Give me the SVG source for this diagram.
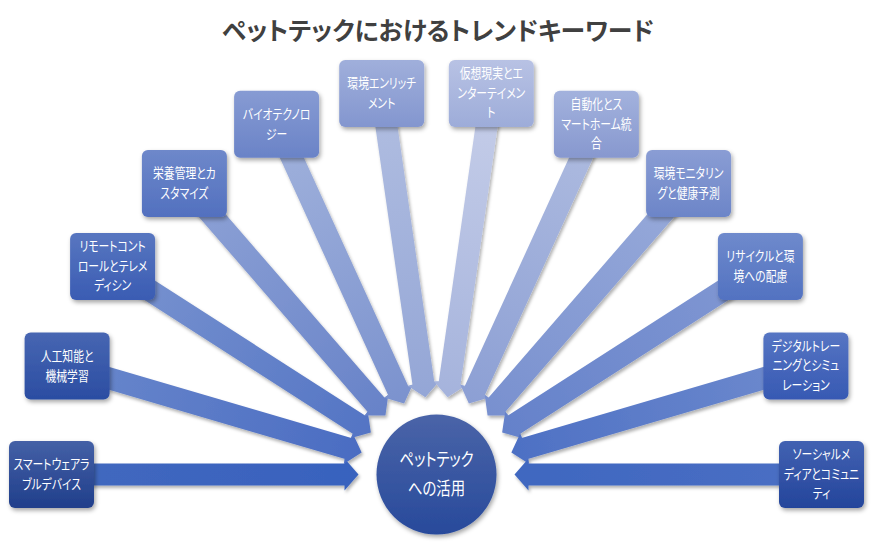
<svg xmlns="http://www.w3.org/2000/svg" width="871" height="545" viewBox="0 0 871 545">
<style>
.t{font-family:"Noto Sans CJK JP","Liberation Sans",sans-serif;fill:#fff;font-size:13.5px;text-anchor:middle;font-feature-settings:"palt"}
.c{font-size:18px}
.title{font-family:"Noto Sans CJK JP","Liberation Sans",sans-serif;fill:#404040;font-size:25px;font-weight:bold;text-anchor:middle;font-feature-settings:"palt"}
.bx{filter:url(#sh)}
.ar{filter:url(#sh2)}
</style>
<defs>
<filter id="sh" x="-20%" y="-20%" width="150%" height="150%"><feDropShadow dx="1.5" dy="2.5" stdDeviation="2" flood-color="#000" flood-opacity="0.35"/></filter>
<filter id="sh2" x="-10%" y="-30%" width="120%" height="160%"><feDropShadow dx="1.5" dy="2.5" stdDeviation="1.8" flood-color="#000" flood-opacity="0.3"/></filter>
<linearGradient id="b0" x1="0" y1="0" x2="0" y2="1"><stop offset="0" stop-color="#4460A6"/><stop offset="1" stop-color="#203F8B"/></linearGradient>
<linearGradient id="b1" x1="0" y1="0" x2="0" y2="1"><stop offset="0" stop-color="#4766B2"/><stop offset="1" stop-color="#2B4DA2"/></linearGradient>
<linearGradient id="b2" x1="0" y1="0" x2="0" y2="1"><stop offset="0" stop-color="#5876C0"/><stop offset="1" stop-color="#3A5CB3"/></linearGradient>
<linearGradient id="b3" x1="0" y1="0" x2="0" y2="1"><stop offset="0" stop-color="#6E88CA"/><stop offset="1" stop-color="#5270BF"/></linearGradient>
<linearGradient id="b4" x1="0" y1="0" x2="0" y2="1"><stop offset="0" stop-color="#879BD3"/><stop offset="1" stop-color="#6A83C7"/></linearGradient>
<linearGradient id="b5" x1="0" y1="0" x2="0" y2="1"><stop offset="0" stop-color="#A0AFDB"/><stop offset="1" stop-color="#8396CF"/></linearGradient>
<linearGradient id="b6" x1="0" y1="0" x2="0" y2="1"><stop offset="0" stop-color="#B8C2E4"/><stop offset="1" stop-color="#9DACD9"/></linearGradient>
<linearGradient id="b7" x1="0" y1="0" x2="0" y2="1"><stop offset="0" stop-color="#A3B2DD"/><stop offset="1" stop-color="#8798CF"/></linearGradient>
<linearGradient id="b8" x1="0" y1="0" x2="0" y2="1"><stop offset="0" stop-color="#8A9DD4"/><stop offset="1" stop-color="#6C85C8"/></linearGradient>
<linearGradient id="b9" x1="0" y1="0" x2="0" y2="1"><stop offset="0" stop-color="#6F8ACC"/><stop offset="1" stop-color="#5272C1"/></linearGradient>
<linearGradient id="b10" x1="0" y1="0" x2="0" y2="1"><stop offset="0" stop-color="#5675C3"/><stop offset="1" stop-color="#3759B3"/></linearGradient>
<linearGradient id="b11" x1="0" y1="0" x2="0" y2="1"><stop offset="0" stop-color="#4262B2"/><stop offset="1" stop-color="#24459B"/></linearGradient>
<linearGradient id="a0" x1="0" y1="0" x2="1" y2="0"><stop offset="0" stop-color="#4268BF"/><stop offset="1" stop-color="#3862BE"/></linearGradient>
<linearGradient id="a1" x1="0" y1="0" x2="1" y2="0"><stop offset="0" stop-color="#6A88CC"/><stop offset="1" stop-color="#4A6CC2"/></linearGradient>
<linearGradient id="a2" x1="0" y1="0" x2="1" y2="0"><stop offset="0" stop-color="#7A94D0"/><stop offset="1" stop-color="#5374C4"/></linearGradient>
<linearGradient id="a3" x1="0" y1="0" x2="1" y2="0"><stop offset="0" stop-color="#8FA3D6"/><stop offset="1" stop-color="#6782C8"/></linearGradient>
<linearGradient id="a4" x1="0" y1="0" x2="1" y2="0"><stop offset="0" stop-color="#A1B2DC"/><stop offset="1" stop-color="#7B92CE"/></linearGradient>
<linearGradient id="a5" x1="0" y1="0" x2="1" y2="0"><stop offset="0" stop-color="#B1BEE1"/><stop offset="1" stop-color="#94A6D6"/></linearGradient>
<linearGradient id="a6" x1="0" y1="0" x2="1" y2="0"><stop offset="0" stop-color="#C6CEE9"/><stop offset="1" stop-color="#A5B3DC"/></linearGradient>
<linearGradient id="a7" x1="0" y1="0" x2="1" y2="0"><stop offset="0" stop-color="#AFBCE0"/><stop offset="1" stop-color="#8C9FD4"/></linearGradient>
<linearGradient id="a8" x1="0" y1="0" x2="1" y2="0"><stop offset="0" stop-color="#99ABDA"/><stop offset="1" stop-color="#7890CF"/></linearGradient>
<linearGradient id="a9" x1="0" y1="0" x2="1" y2="0"><stop offset="0" stop-color="#8399D3"/><stop offset="1" stop-color="#6481CA"/></linearGradient>
<linearGradient id="a10" x1="0" y1="0" x2="1" y2="0"><stop offset="0" stop-color="#6F8BCE"/><stop offset="1" stop-color="#4D70C4"/></linearGradient>
<linearGradient id="a11" x1="0" y1="0" x2="1" y2="0"><stop offset="0" stop-color="#4A6FC4"/><stop offset="1" stop-color="#3F67C0"/></linearGradient>
<linearGradient id="cg" x1="0" y1="0" x2="0" y2="1"><stop offset="0" stop-color="#4A64A8"/><stop offset="1" stop-color="#284A9B"/></linearGradient>
<polygon id="arr" points="0,-11 293,-11 293,-16 307,0 293,16 293,11 0,11"/>
</defs>
<rect width="871" height="545" fill="#fff"/>
<text class="title" x="438" y="40" textLength="432" lengthAdjust="spacingAndGlyphs">ペットテックにおけるトレンドキーワード</text>
<g id="connectors" class="ar">
<use href="#arr" fill="url(#a0)" transform="translate(51.5,474.5) rotate(0)"/>
<use href="#arr" fill="url(#a1)" transform="translate(67.1,366.0) rotate(16.364)"/>
<use href="#arr" fill="url(#a2)" transform="translate(112.6,266.4) rotate(32.727)"/>
<use href="#arr" fill="url(#a3)" transform="translate(184.4,183.5) rotate(49.091)"/>
<use href="#arr" fill="url(#a4)" transform="translate(276.6,124.3) rotate(65.455)"/>
<use href="#arr" fill="url(#a5)" transform="translate(381.7,93.4) rotate(81.818)"/>
<use href="#arr" fill="url(#a6)" transform="translate(491.3,93.4) rotate(98.182)"/>
<use href="#arr" fill="url(#a7)" transform="translate(596.4,124.3) rotate(114.545)"/>
<use href="#arr" fill="url(#a8)" transform="translate(688.6,183.5) rotate(130.909)"/>
<use href="#arr" fill="url(#a9)" transform="translate(760.4,266.4) rotate(147.273)"/>
<use href="#arr" fill="url(#a10)" transform="translate(805.9,366.0) rotate(163.636)"/>
<use href="#arr" fill="url(#a11)" transform="translate(821.5,474.5) rotate(180)"/>
</g>
<g id="center">
<circle cx="436.5" cy="474.5" r="60" fill="url(#cg)" class="bx"/>
<g transform="translate(436.5,0) scale(0.8,1)"><text class="t c" x="0" y="466">ペットテック</text>
<text class="t c" x="0" y="495">への活用</text></g>
</g>
<g id="n0"><rect class="bx" x="9" y="441" width="85" height="67" rx="6" fill="url(#b0)"/>
<g transform="translate(51.5,0) scale(0.8,1)"><text class="t" x="0" y="469">スマートウェアラ</text><text class="t" x="0" y="489">ブルデバイス</text></g></g>
<g id="n1"><rect class="bx" x="24.6" y="332.5" width="85" height="67" rx="6" fill="url(#b1)"/>
<g transform="translate(67.1,0) scale(0.8,1)"><text class="t" x="0" y="361">人工知能と</text><text class="t" x="0" y="381">機械学習</text></g></g>
<g id="n2"><rect class="bx" x="70.1" y="232.9" width="85" height="67" rx="6" fill="url(#b2)"/>
<g transform="translate(112.6,0) scale(0.8,1)"><text class="t" x="0" y="251.5">リモートコント</text><text class="t" x="0" y="271">ロールとテレメ</text><text class="t" x="0" y="290.5">ディシン</text></g></g>
<g id="n3"><rect class="bx" x="141.9" y="150" width="85" height="67" rx="6" fill="url(#b3)"/>
<g transform="translate(184.4,0) scale(0.8,1)"><text class="t" x="0" y="178.5">栄養管理とカ</text><text class="t" x="0" y="198.5">スタマイズ</text></g></g>
<g id="n4"><rect class="bx" x="234.1" y="90.8" width="85" height="67" rx="6" fill="url(#b4)"/>
<g transform="translate(276.6,0) scale(0.8,1)"><text class="t" x="0" y="119.3">バイオテクノロ</text><text class="t" x="0" y="139.3">ジー</text></g></g>
<g id="n5"><rect class="bx" x="339.2" y="59.9" width="85" height="67" rx="6" fill="url(#b5)"/>
<g transform="translate(381.7,0) scale(0.8,1)"><text class="t" x="0" y="88.4">環境エンリッチ</text><text class="t" x="0" y="108.4">メント</text></g></g>
<g id="n6"><rect class="bx" x="448.8" y="59.9" width="85" height="67" rx="6" fill="url(#b6)"/>
<g transform="translate(491.3,0) scale(0.8,1)"><text class="t" x="0" y="78.4">仮想現実とエ</text><text class="t" x="0" y="97.9">ンターテイメン</text><text class="t" x="0" y="117.4">ト</text></g></g>
<g id="n7"><rect class="bx" x="553.9" y="90.8" width="85" height="67" rx="6" fill="url(#b7)"/>
<g transform="translate(596.4,0) scale(0.8,1)"><text class="t" x="0" y="109.3">自動化とス</text><text class="t" x="0" y="128.8">マートホーム統</text><text class="t" x="0" y="148.3">合</text></g></g>
<g id="n8"><rect class="bx" x="646.1" y="150" width="85" height="67" rx="6" fill="url(#b8)"/>
<g transform="translate(688.6,0) scale(0.8,1)"><text class="t" x="0" y="178.5">環境モニタリン</text><text class="t" x="0" y="198.5">グと健康予測</text></g></g>
<g id="n9"><rect class="bx" x="717.9" y="232.9" width="85" height="67" rx="6" fill="url(#b9)"/>
<g transform="translate(760.4,0) scale(0.8,1)"><text class="t" x="0" y="261.4">リサイクルと環</text><text class="t" x="0" y="281.4">境への配慮</text></g></g>
<g id="n10"><rect class="bx" x="763.4" y="332.5" width="85" height="67" rx="6" fill="url(#b10)"/>
<g transform="translate(805.9,0) scale(0.8,1)"><text class="t" x="0" y="351">デジタルトレー</text><text class="t" x="0" y="370.5">ニングとシミュ</text><text class="t" x="0" y="390">レーション</text></g></g>
<g id="n11"><rect class="bx" x="779" y="441" width="85" height="67" rx="6" fill="url(#b11)"/>
<g transform="translate(821.5,0) scale(0.8,1)"><text class="t" x="0" y="459.5">ソーシャルメ</text><text class="t" x="0" y="479">ディアとコミュニ</text><text class="t" x="0" y="498.5">ティ</text></g></g>
</svg>
